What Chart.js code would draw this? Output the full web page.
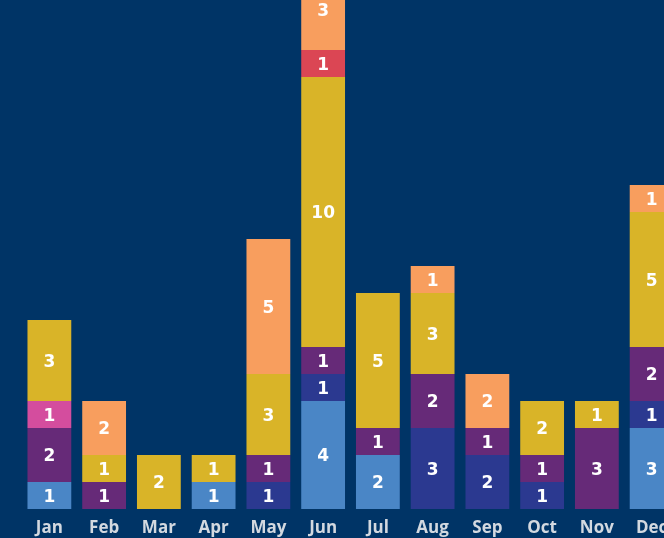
<!DOCTYPE html>
<html>
<head>
<meta charset="utf-8">
<script src="https://cdn.jsdelivr.net/npm/chart.js@4"></script>
<style>
  html, body { margin: 0; padding: 0; background: #003466; overflow: hidden; }
  body { width: 664px; height: 538px; position: relative; }
  .wrap { position: absolute; left: 0; top: -31px; width: 700px; height: 569px; }
</style>
</head>
<body>
<div class="wrap"><canvas id="chart"></canvas></div>
<script>
const months = ['Jan', 'Feb', 'Mar', 'Apr', 'May', 'Jun', 'Jul', 'Aug', 'Sep', 'Oct', 'Nov', 'Dec'];

// stacked from the bottom up
const lightBlue = [1, 0, 0, 1, 0, 4, 2, 0, 0, 0, 0, 3];
const indigo    = [0, 0, 0, 0, 1, 1, 0, 3, 2, 1, 0, 1];
const purple    = [2, 1, 0, 0, 1, 1, 1, 2, 1, 1, 3, 2];
const pink      = [1, 0, 0, 0, 0, 0, 0, 0, 0, 0, 0, 0];
const yellow    = [3, 1, 2, 1, 3, 10, 5, 3, 0, 2, 1, 5];
const red       = [0, 0, 0, 0, 0, 1, 0, 0, 0, 0, 0, 0];
const orange    = [0, 2, 0, 0, 5, 3, 0, 1, 2, 0, 0, 1];

const series = [
  { data: lightBlue, color: '#4a86c6' },
  { data: indigo,    color: '#2b3990' },
  { data: purple,    color: '#662a78' },
  { data: pink,      color: '#d44d9e' },
  { data: yellow,    color: '#d9b428' },
  { data: red,       color: '#db4654' },
  { data: orange,    color: '#f89e5e' },
];

// white value in the middle of every segment
const segmentLabels = {
  id: 'segmentLabels',
  afterDatasetsDraw(chart) {
    const ctx = chart.ctx;
    ctx.save();
    ctx.fillStyle = '#ffffff';
    ctx.font = 'bold 17px "DejaVu Sans"';
    ctx.textAlign = 'center';
    ctx.textBaseline = 'middle';
    chart.data.datasets.forEach((ds, i) => {
      chart.getDatasetMeta(i).data.forEach((bar, j) => {
        const v = ds.data[j];
        if (!v) return;
        ctx.fillText(String(v), bar.x, (bar.y + bar.base) / 2 + 2);
      });
    });
    ctx.restore();
  }
};

new Chart(document.getElementById('chart'), {
  type: 'bar',
  data: {
    labels: months,
    datasets: series.map(s => ({
      data: s.data,
      backgroundColor: s.color,
      borderWidth: 0,
      barPercentage: 0.8,
      categoryPercentage: 1
    }))
  },
  options: {
    responsive: true,
    maintainAspectRatio: false,
    animation: false,
    layout: { padding: { left: 22, right: 21, top: 0, bottom: 0 } },
    plugins: { legend: { display: false }, tooltip: { enabled: false } },
    scales: {
      x: {
        stacked: true,
        grid: { display: false },
        border: { display: false },
        ticks: {
          color: '#d3d9e0',
          font: { family: 'Open Sans', size: 17, weight: 'bold' },
          padding: 1
        },
        afterFit(scale) { scale.height = 29; }
      },
      y: {
        stacked: true,
        display: false,
        min: 0,
        max: 20
      }
    }
  },
  plugins: [segmentLabels]
});
</script>
</body>
</html>
